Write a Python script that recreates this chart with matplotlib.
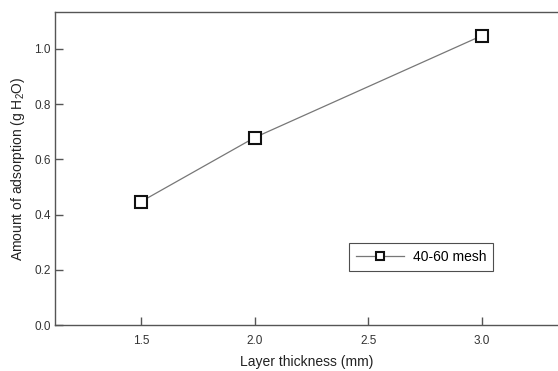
import matplotlib
matplotlib.use("Agg")
import matplotlib.pyplot as plt

plt.rcParams['font.family'] = ['Liberation Sans', 'DejaVu Sans']
plt.rcParams['mathtext.default'] = 'regular'

# data
thickness = [1.5, 2.0, 3.0]
adsorption = [0.447, 0.679, 1.048]
series_label = "40-60 mesh"
xticks = [1.5, 2.0, 2.5, 3.0]
yticks = [0.0, 0.2, 0.4, 0.6, 0.8, 1.0]

fig = plt.figure(figsize=(5.58, 3.71), dpi=100)
ax = fig.add_axes([55 / 558, 1 - 325 / 371, 503 / 558, 313 / 371])

ax.plot(thickness, adsorption, color='#777777', lw=0.9,
        marker='s', markersize=8.2, markerfacecolor='white',
        markeredgecolor='#111111', markeredgewidth=1.5, label=series_label)

ax.set_xlim(1.121, 3.336)
ax.set_ylim(0, 1.134)
ax.set_xticks(xticks)
ax.set_yticks(yticks)
ax.set_xticklabels([f"{v:.1f}" for v in xticks])
ax.set_yticklabels([f"{v:.1f}" for v in yticks])

for s in ['left', 'top', 'bottom']:
    ax.spines[s].set_color('#555555')
    ax.spines[s].set_linewidth(1.0)
ax.spines['right'].set_visible(False)
ax.tick_params(direction='in', length=6, width=1.0, color='#555555',
               labelsize=8.5, labelcolor='#333333')
ax.tick_params(axis='x', pad=7)
ax.tick_params(axis='y', pad=3)

ax.set_xlabel("Layer thickness (mm)", fontsize=10, color='#222222', labelpad=6)
ax.set_ylabel("Amount of adsorption (g H$_2$O)", fontsize=10, color='#222222', labelpad=5)

leg = ax.legend(loc='center', bbox_to_anchor=(421 / 558, 1 - 257 / 371),
                bbox_transform=fig.transFigure, fontsize=10, frameon=True,
                fancybox=False, edgecolor='#222222', handlelength=3.5,
                markerscale=0.75, borderpad=0.5, handletextpad=0.6)
leg.get_frame().set_linewidth(0.8)

fig.savefig("out.png", dpi=100)
